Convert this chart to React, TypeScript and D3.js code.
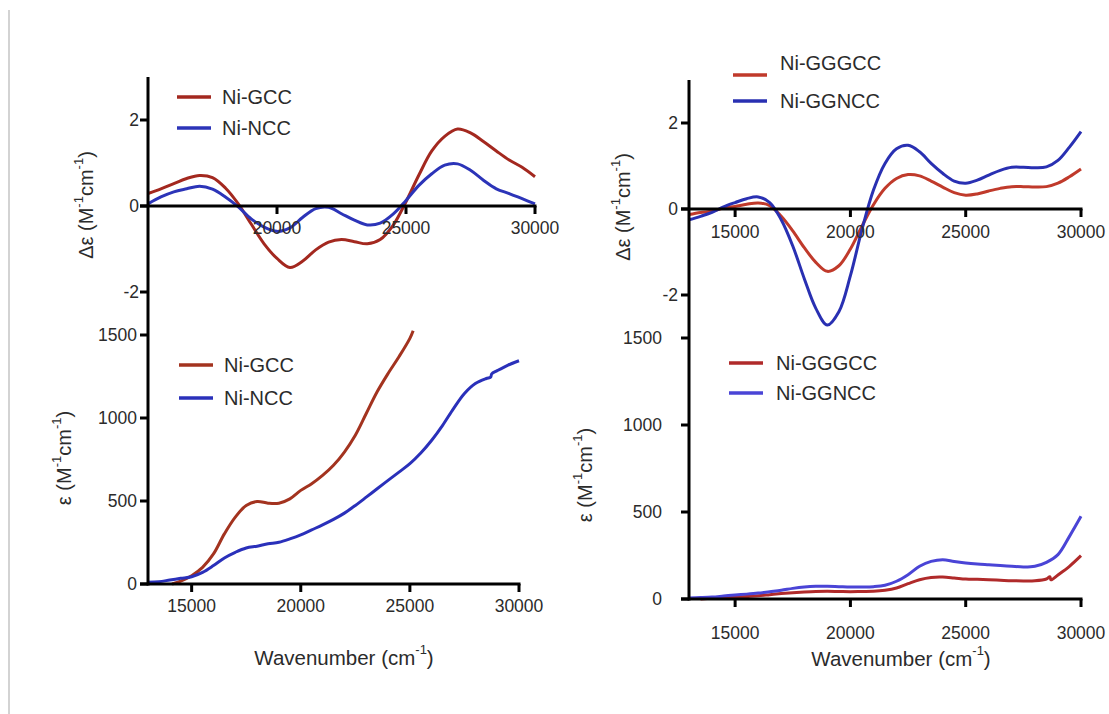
import React from "react";
import * as d3 from "d3";

// ---------- data ----------
// Top-left: CD (Δε) Ni-GCC / Ni-NCC
const tlWave = [15000, 15500, 16000, 16500, 17000, 17500, 18000, 18500, 19000, 19500, 20000, 20500, 21000, 21500, 22000, 22500, 23000, 23500, 24000, 24500, 25000, 25500, 26000, 26500, 27000, 27500, 28000, 28500, 29000, 29500, 30000];
const tlGCC = [0.29, 0.4, 0.52, 0.64, 0.71, 0.66, 0.42, 0.05, -0.42, -0.88, -1.22, -1.43, -1.28, -1.02, -0.84, -0.78, -0.83, -0.88, -0.78, -0.45, 0.1, 0.72, 1.28, 1.62, 1.79, 1.7, 1.5, 1.28, 1.07, 0.9, 0.68];
const tlNCC = [0.05, 0.21, 0.33, 0.4, 0.46, 0.39, 0.21, -0.02, -0.3, -0.49, -0.59, -0.51, -0.26, -0.06, -0.03, -0.18, -0.33, -0.44, -0.4, -0.19, 0.13, 0.48, 0.75, 0.95, 0.98, 0.83, 0.6, 0.4, 0.29, 0.17, 0.05];

// Bottom-left: absorption (ε) Ni-GCC / Ni-NCC
const blGccWave = [14100, 14500, 15000, 15500, 16000, 16500, 17000, 17500, 18000, 18500, 19000, 19500, 20000, 20500, 21000, 21500, 22000, 22500, 23000, 23500, 24000, 24500, 25000, 25150];
const blGCC = [0, 18, 50, 100, 181, 302, 403, 473, 497, 487, 487, 513, 564, 604, 654, 715, 795, 896, 1027, 1158, 1268, 1369, 1480, 1526];
const blNccWave = [13000, 13500, 14000, 14500, 15000, 15500, 16000, 16500, 17000, 17500, 18000, 18500, 19000, 19500, 20000, 20500, 21000, 21500, 22000, 22500, 23000, 23500, 24000, 24500, 25000, 25500, 26000, 26500, 27000, 27500, 28000, 28500, 28700, 28750, 29000, 29500, 30000];
const blNCC = [10, 14, 24, 34, 44, 70, 111, 157, 191, 217, 228, 242, 252, 272, 296, 326, 356, 389, 427, 473, 523, 574, 624, 674, 725, 789, 866, 956, 1057, 1148, 1208, 1238, 1246, 1266, 1285, 1319, 1345];

// Top-right: CD (Δε) Ni-GGGCC / Ni-GGNCC
const trWave = [13000, 13500, 14000, 14500, 15000, 15500, 16000, 16500, 17000, 17500, 18000, 18500, 19000, 19500, 20000, 20500, 21000, 21500, 22000, 22500, 23000, 23500, 24000, 24500, 25000, 25500, 26000, 26500, 27000, 27500, 28000, 28500, 29000, 29500, 30000];
const trGGGCC = [-0.13, -0.08, -0.05, 0.02, 0.06, 0.11, 0.14, 0.08, -0.17, -0.51, -0.9, -1.24, -1.45, -1.32, -0.93, -0.4, 0.1, 0.48, 0.71, 0.8, 0.77, 0.65, 0.51, 0.38, 0.32, 0.35, 0.42, 0.48, 0.52, 0.52, 0.51, 0.52, 0.6, 0.75, 0.93];
const trGGNCC = [-0.25, -0.17, -0.08, 0.05, 0.15, 0.24, 0.28, 0.15, -0.25, -0.86, -1.62, -2.31, -2.7, -2.39, -1.55, -0.48, 0.44, 1.06, 1.4, 1.48, 1.33, 1.06, 0.83, 0.65, 0.6, 0.67, 0.79, 0.9, 0.97, 0.97, 0.96, 0.98, 1.13, 1.44, 1.8];

// Bottom-right: absorption (ε) Ni-GGGCC / Ni-GGNCC
const brGggWave = [13500, 14000, 14500, 15000, 15500, 16000, 16500, 17000, 17500, 18000, 18500, 19000, 19500, 20000, 20500, 21000, 21500, 22000, 22500, 23000, 23500, 24000, 24500, 25000, 25500, 26000, 26500, 27000, 27500, 28000, 28500, 28650, 28700, 29000, 29500, 30000];
const brGGGCC = [0, 4, 7, 11, 15, 19, 25, 31, 36, 40, 43, 44, 43, 42, 43, 44, 50, 63, 88, 111, 124, 126, 121, 115, 113, 111, 108, 105, 104, 105, 115, 128, 110, 138, 188, 249];
const brGgnWave = [13000, 13500, 14000, 14500, 15000, 15500, 16000, 16500, 17000, 17500, 18000, 18500, 19000, 19500, 20000, 20500, 21000, 21500, 22000, 22500, 23000, 23500, 24000, 24500, 25000, 25500, 26000, 26500, 27000, 27500, 28000, 28500, 29000, 29500, 30000];
const brGGNCC = [6, 8, 11, 17, 23, 28, 34, 42, 50, 61, 69, 73, 73, 71, 69, 69, 71, 79, 102, 140, 188, 216, 226, 216, 207, 201, 197, 193, 188, 184, 188, 211, 255, 360, 475];

// ticks
const cdTicks = [-2, 0, 2];
const absTicks = [0, 500, 1000, 1500];
const leftCdXTicks = [20000, 25000, 30000];
const xTicks = [15000, 20000, 25000, 30000];

const FONT = "'Liberation Sans', Arial, Helvetica, sans-serif";
const TXT = "#2b2b2b";

type Series = { xs: number[]; ys: number[]; color: string; name: string };

type PanelProps = {
  xDomain: [number, number];
  xRange: [number, number];
  yDomain: [number, number];
  yRange: [number, number];
  xTickValues: number[];
  yTickValues: number[];
  xLabelY: number;
  yLabelRight: number;
  series: Series[];
  legend: { lineX: number; textX: number; ys: number[]; textYs: number[] };
  yTitle: { x: number; y: number; delta: boolean };
  xTitle?: { x: number; y: number };
  axisLeftExtent: [number, number];
};

function UnitText({ prefix }: { prefix: string }) {
  return (
    <>
      <tspan>{prefix + " (M"}</tspan>
      <tspan dy={-8} fontSize={13}>-1</tspan>
      <tspan dy={8}>cm</tspan>
      <tspan dy={-8} fontSize={13}>-1</tspan>
      <tspan dy={8}>)</tspan>
    </>
  );
}

function Panel(p: PanelProps) {
  const x = d3.scaleLinear().domain(p.xDomain).range(p.xRange);
  const y = d3.scaleLinear().domain(p.yDomain).range(p.yRange);
  const y0 = y(0);
  const line = d3
    .line<[number, number]>()
    .x((d) => x(d[0]))
    .y((d) => y(d[1]))
    .curve(d3.curveCatmullRom.alpha(0.5));
  const ax = p.xRange[0];
  return (
    <g>
      {p.series.map((s, i) => (
        <path
          key={i}
          d={line(s.xs.map((v, j) => [v, s.ys[j]] as [number, number])) || ""}
          fill="none"
          stroke={s.color}
          strokeWidth={3}
          strokeLinejoin="round"
        />
      ))}
      {/* x axis at zero */}
      <line x1={ax - 8} x2={p.xRange[1] + 1.5} y1={y0} y2={y0} stroke="#000" strokeWidth={3} />
      {p.xTickValues.map((t) => (
        <g key={t}>
          <line x1={x(t)} x2={x(t)} y1={y0} y2={y0 + 8} stroke="#000" strokeWidth={3} />
          <text
            x={x(t)}
            y={p.xLabelY}
            textAnchor="middle"
            dominantBaseline="central"
            fontSize={17.5}
            fill={TXT}
            fontFamily={FONT}
          >
            {t}
          </text>
        </g>
      ))}
      {/* y axis */}
      <line x1={ax} x2={ax} y1={p.axisLeftExtent[0]} y2={p.axisLeftExtent[1]} stroke="#000" strokeWidth={3} />
      {p.yTickValues.map((t) => (
        <g key={t}>
          <line x1={ax - 8} x2={ax} y1={y(t)} y2={y(t)} stroke="#000" strokeWidth={3} />
          <text
            x={p.yLabelRight}
            y={y(t)}
            textAnchor="end"
            dominantBaseline="central"
            fontSize={17.5}
            fill={TXT}
            fontFamily={FONT}
          >
            {t}
          </text>
        </g>
      ))}
      {/* legend */}
      {p.series.map((s, i) => (
        <g key={"lg" + i}>
          <line
            x1={p.legend.lineX}
            x2={p.legend.lineX + 34}
            y1={p.legend.ys[i]}
            y2={p.legend.ys[i]}
            stroke={s.color}
            strokeWidth={3.5}
          />
          <text
            x={p.legend.textX}
            y={p.legend.textYs[i]}
            dominantBaseline="central"
            fontSize={20}
            fill={TXT}
            fontFamily={FONT}
          >
            {s.name}
          </text>
        </g>
      ))}
      {/* titles */}
      <text
        transform={`translate(${p.yTitle.x},${p.yTitle.y}) rotate(-90)`}
        textAnchor="middle"
        dominantBaseline="central"
        fontSize={20}
        fill={TXT}
        fontFamily={FONT}
      >
        <UnitText prefix={p.yTitle.delta ? "Δε" : "ε"} />
      </text>
      {p.xTitle && (
        <text
          x={p.xTitle.x}
          y={p.xTitle.y}
          textAnchor="middle"
          dominantBaseline="central"
          fontSize={20.5}
          fill={TXT}
          fontFamily={FONT}
        >
          <tspan>Wavenumber (cm</tspan>
          <tspan dy={-8} fontSize={13}>-1</tspan>
          <tspan dy={8}>)</tspan>
        </text>
      )}
    </g>
  );
}

export default function App() {
  return (
    <svg
      width={1109}
      height={714}
      style={{ position: "absolute", left: 0, top: 0, background: "#fff" }}
    >
      <rect x={0} y={0} width={1109} height={714} fill="#fff" />
      <line x1={9} x2={9} y1={10} y2={714} stroke="#c4c4c4" strokeWidth={1.5} />
      {/* top-left CD */}
      <Panel
        xDomain={[15000, 30000]}
        xRange={[148, 535]}
        yDomain={[3, -3]}
        yRange={[77, 335]}
        xTickValues={leftCdXTicks}
        yTickValues={cdTicks}
        xLabelY={228}
        yLabelRight={139}
        series={[
          { xs: tlWave, ys: tlGCC, color: "#a3281f", name: "Ni-GCC" },
          { xs: tlWave, ys: tlNCC, color: "#2c34b8", name: "Ni-NCC" },
        ]}
        legend={{ lineX: 177, textX: 222, ys: [97, 128], textYs: [97, 128] }}
        yTitle={{ x: 86, y: 205, delta: true }}
        axisLeftExtent={[77, 335]}
      />
      {/* bottom-left absorption */}
      <Panel
        xDomain={[13000, 30000]}
        xRange={[148, 519]}
        yDomain={[0, 1500]}
        yRange={[584, 335]}
        xTickValues={xTicks}
        yTickValues={absTicks}
        xLabelY={606}
        yLabelRight={137}
        series={[
          { xs: blGccWave, ys: blGCC, color: "#a3331f", name: "Ni-GCC" },
          { xs: blNccWave, ys: blNCC, color: "#2a30ba", name: "Ni-NCC" },
        ]}
        legend={{ lineX: 179, textX: 224, ys: [365, 398], textYs: [365, 398] }}
        yTitle={{ x: 64, y: 458, delta: false }}
        xTitle={{ x: 344, y: 657 }}
        axisLeftExtent={[335, 585.5]}
      />
      {/* top-right CD */}
      <Panel
        xDomain={[13000, 30000]}
        xRange={[689, 1081]}
        yDomain={[3, -3]}
        yRange={[80, 338]}
        xTickValues={xTicks}
        yTickValues={cdTicks}
        xLabelY={232}
        yLabelRight={678}
        series={[
          { xs: trWave, ys: trGGGCC, color: "#c03a2b", name: "Ni-GGGCC" },
          { xs: trWave, ys: trGGNCC, color: "#2930b2", name: "Ni-GGNCC" },
        ]}
        legend={{ lineX: 733, textX: 780, ys: [75, 101], textYs: [63, 101] }}
        yTitle={{ x: 623, y: 207, delta: true }}
        axisLeftExtent={[80, 338]}
      />
      {/* bottom-right absorption */}
      <Panel
        xDomain={[13000, 30000]}
        xRange={[689, 1081]}
        yDomain={[0, 1500]}
        yRange={[599, 338]}
        xTickValues={xTicks}
        yTickValues={absTicks}
        xLabelY={633}
        yLabelRight={662}
        series={[
          { xs: brGggWave, ys: brGGGCC, color: "#b02a2a", name: "Ni-GGGCC" },
          { xs: brGgnWave, ys: brGGNCC, color: "#4a44d6", name: "Ni-GGNCC" },
        ]}
        legend={{ lineX: 729, textX: 776, ys: [363, 393], textYs: [363, 393] }}
        yTitle={{ x: 585, y: 475, delta: false }}
        xTitle={{ x: 901, y: 658 }}
        axisLeftExtent={[338, 600.5]}
      />
    </svg>
  );
}
